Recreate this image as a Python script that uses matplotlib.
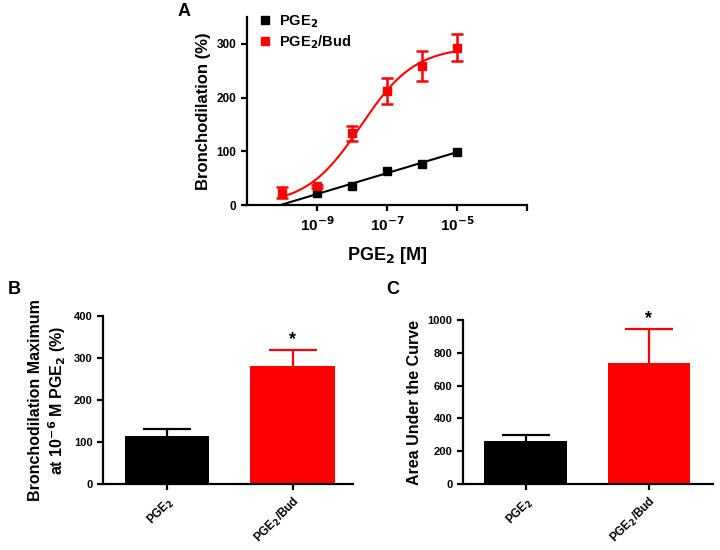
import numpy as np
import matplotlib
matplotlib.use("Agg")
import matplotlib.pyplot as plt
from matplotlib.lines import Line2D

plt.rcParams['font.family'] = ['Liberation Sans', 'DejaVu Sans']
plt.rcParams['font.weight'] = 'bold'
plt.rcParams['axes.labelweight'] = 'bold'
plt.rcParams['mathtext.default'] = 'bf'

# panel A: concentration-response
conc_exp = [-10, -9, -8, -7, -6, -5]
pge2_exp = [-9, -8, -7, -6, -5]
pge2_resp = [22, 36, 64, 77, 99]
bud_resp = [23, 35, 134, 212, 259, 293]
bud_err = [10, 3, 14, 24, 28, 25]

# panels B and C
groups = ['PGE$_2$', 'PGE$_2$/Bud']
max_vals = [115, 282]
max_err = [16, 37]
auc_vals = [260, 736]
auc_err = [42, 211]

RED = '#ff0000'


def fit_4pl(x, y):
    # crude least squares fit of a 4 parameter logistic
    x = np.asarray(x, float)
    y = np.asarray(y, float)
    best = None
    for ec in np.linspace(-11, -4, 281):
        for h in np.linspace(0.2, 2.0, 91):
            s = 1.0 / (1 + 10 ** ((ec - x) * h))
            A = np.column_stack([1 - s, s])
            coef, *_ = np.linalg.lstsq(A, y, rcond=None)
            r = np.sum((A @ coef - y) ** 2)
            if best is None or r < best[0]:
                best = (r, ec, h, coef)
    _, ec, h, (bot, top) = best
    return lambda xx: bot + (top - bot) / (1 + 10 ** ((ec - xx) * h))


def style(ax):
    for s in ['top', 'right']:
        ax.spines[s].set_visible(False)
    for s in ['left', 'bottom']:
        ax.spines[s].set_linewidth(1.6)
    ax.tick_params(width=1.6, length=4, direction='out')


fig = plt.figure(figsize=(7.2, 5.5), dpi=100)

# ---- A ----
axA = fig.add_axes([0.343, 0.627, 0.389, 0.342])
style(axA)
xb = 10.0 ** np.array(pge2_exp)
xr = 10.0 ** np.array(conc_exp)

# black: straight line fit on log scale
k, b = np.polyfit(pge2_exp, pge2_resp, 1)
xl = np.linspace(-b / k, pge2_exp[-1], 100)
axA.plot(10 ** xl, k * xl + b, color='black', lw=1.5)

f = fit_4pl(conc_exp, bud_resp)
xx = np.linspace(conc_exp[0], conc_exp[-1], 300)
axA.plot(10 ** xx, f(xx), color=RED, lw=1.5)

axA.plot(xb, pge2_resp, 's', color='black', ms=6)
axA.errorbar(xr, bud_resp, yerr=bud_err, fmt='s', color=RED, ms=6,
             elinewidth=1.8, capsize=4, capthick=1.8)

axA.set_xscale('log')
axA.set_xlim(1e-11, 1e-3)
axA.set_ylim(0, 350)
axA.set_xticks([1e-9, 1e-7, 1e-5, 1e-3])
axA.set_xticklabels(['10$^{-9}$', '10$^{-7}$', '10$^{-5}$', ''], fontsize=11)
axA.minorticks_off()
axA.set_yticks([0, 100, 200, 300])
axA.tick_params(axis='y', labelsize=8.5)
axA.set_ylabel('Bronchodilation (%)', fontsize=12)
axA.set_xlabel('PGE$_2$ [M]', fontsize=13, labelpad=8)
handles = [Line2D([], [], ls='none', marker='s', ms=6, color='black'),
           Line2D([], [], ls='none', marker='s', ms=6, color=RED)]
axA.legend(handles, ['PGE$_2$', 'PGE$_2$/Bud'], loc='upper left',
           bbox_to_anchor=(-0.01, 1.09), frameon=False, fontsize=10.5,
           handletextpad=0.5, labelspacing=0.25, handlelength=1.0)
fig.text(178 / 720, 1 - 12 / 550, 'A', fontsize=13, fontweight='bold',
         ha='left', va='center')


def bar_panel(rect, vals, errs, ylim, yticks, ylabel, label, lx, xlim):
    ax = fig.add_axes(rect)
    style(ax)
    x = np.arange(len(vals))
    ax.bar(x, vals, width=0.67, color=['black', RED])
    for i in x:
        c = 'black' if i == 0 else RED
        eb = ax.errorbar(x[i], vals[i], yerr=[[0], [errs[i]]], fmt='none',
                         ecolor=c, elinewidth=1.6, capsize=17, capthick=1.6)
        eb[1][0].set_visible(False)
    ax.text(1, vals[1] + errs[1] + ylim * 0.01, '*', ha='center', va='bottom',
            fontsize=13)
    ax.set_xlim(*xlim)
    ax.set_ylim(0, ylim)
    ax.set_yticks(yticks)
    ax.set_xticks(x)
    ax.set_xticklabels(groups, rotation=45, ha='right', rotation_mode='anchor',
                       fontsize=8.5)
    ax.tick_params(axis='y', labelsize=8)
    ax.set_ylabel(ylabel, fontsize=11.5)
    fig.text(lx, 1 - 290 / 550, label, fontsize=13, fontweight='bold',
             ha='left', va='center')
    return ax


bar_panel([0.143, 0.12, 0.347, 0.3055], max_vals, max_err, 400,
          [0, 100, 200, 300, 400],
          'Bronchodilation Maximum\nat 10$^{-6}$ M PGE$_2$ (%)', 'B',
          8 / 720, (-0.51, 1.48))
bar_panel([0.643, 0.12, 0.347, 0.298], auc_vals, auc_err, 1000,
          [0, 200, 400, 600, 800, 1000], 'Area Under the Curve', 'C',
          386 / 720, (-0.51, 1.52))

fig.savefig('out.png', dpi=100)
